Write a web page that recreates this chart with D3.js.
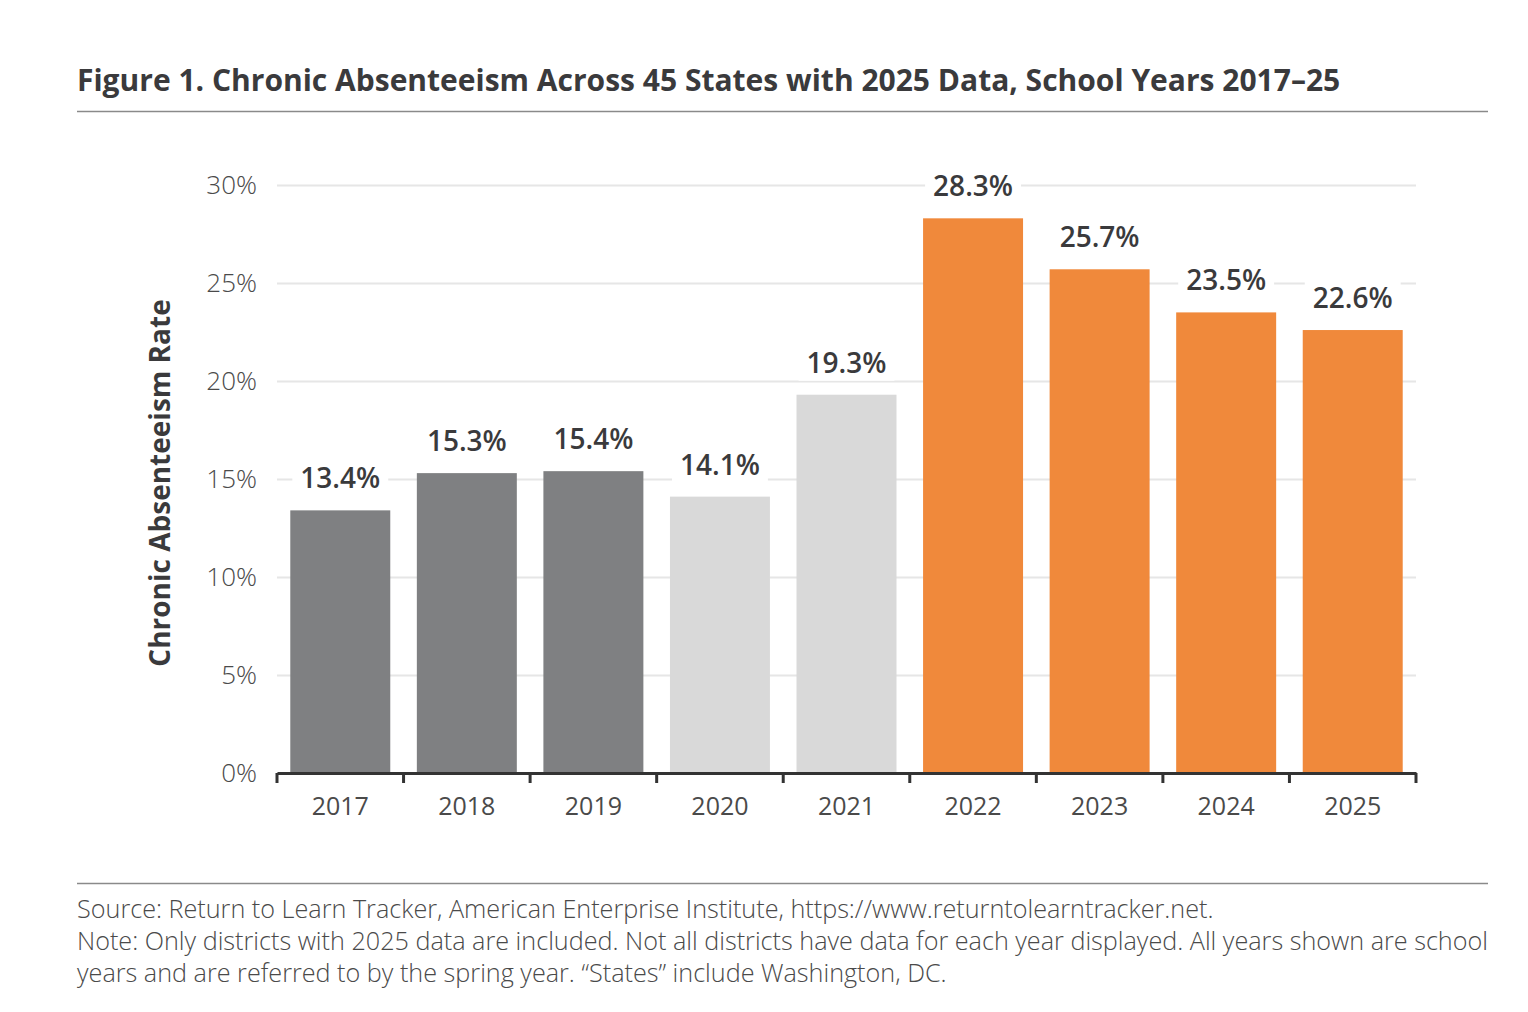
<!DOCTYPE html>
<html>
<head>
<meta charset="utf-8">
<script src="https://cdn.jsdelivr.net/npm/d3@7"></script>
<style>
  html, body { margin: 0; padding: 0; background: #fff; }
  svg text { font-family: "Open Sans", Lato, sans-serif; }
</style>
</head>
<body>
<svg id="chart" width="1528" height="1012"></svg>
<script>
// chart data
const years = ["2017", "2018", "2019", "2020", "2021", "2022", "2023", "2024", "2025"];
const rates = [13.4, 15.3, 15.4, 14.1, 19.3, 28.3, 25.7, 23.5, 22.6];
const barColors = ["#7f8082", "#7f8082", "#7f8082", "#d9d9d9", "#d9d9d9", "#f0893b", "#f0893b", "#f0893b", "#f0893b"];
const yTicks = [0, 5, 10, 15, 20, 25, 30];

const titleText = "Figure 1. Chronic Absenteeism Across 45 States with 2025 Data, School Years 2017\u201325";
const yTitle = "Chronic Absenteeism Rate";
const notes = [
  "Source: Return to Learn Tracker, American Enterprise Institute, https://www.returntolearntracker.net.",
  "Note: Only districts with 2025 data are included. Not all districts have data for each year displayed. All years shown are school",
  "years and are referred to by the spring year. \u201cStates\u201d include Washington, DC."
];

const svg = d3.select("#chart");
const plotLeft = 277, plotRight = 1416, plotTop = 185, plotBottom = 773;

// title + rules
svg.append("text")
  .attr("x", 77).attr("y", 91)
  .attr("font-size", 30).attr("font-weight", 700)
  .attr("fill", "#3a3a3c")
  .text(titleText);

svg.append("line")
  .attr("x1", 77).attr("x2", 1488).attr("y1", 111.5).attr("y2", 111.5)
  .attr("stroke", "#8a8a8a").attr("stroke-width", 1.5);

svg.append("line")
  .attr("x1", 77).attr("x2", 1488).attr("y1", 883.5).attr("y2", 883.5)
  .attr("stroke", "#8a8a8a").attr("stroke-width", 1.5);

const x = d3.scaleBand()
  .domain(years)
  .range([plotLeft, plotRight])
  .paddingInner(0.21)
  .paddingOuter(0.105);

const y = d3.scaleLinear()
  .domain([0, 30])
  .range([plotBottom, plotTop]);

// gridlines + y labels
const yAxis = svg.append("g")
  .attr("transform", `translate(${plotLeft},0)`)
  .call(d3.axisLeft(y).tickValues(yTicks).tickFormat(d => d + "%").tickSize(-(plotRight - plotLeft)).tickPadding(20));
yAxis.select(".domain").remove();
yAxis.selectAll(".tick line").attr("stroke", "#e6e6e6").attr("stroke-width", 2);
yAxis.selectAll(".tick text")
  .attr("font-size", 26).attr("font-weight", 300).attr("fill", "#4a4a4a")
  .attr("font-family", "'Open Sans', sans-serif");

// bars
svg.append("g").selectAll("rect")
  .data(rates)
  .join("rect")
  .attr("x", (d, i) => x(years[i]))
  .attr("y", d => y(d))
  .attr("width", x.bandwidth())
  .attr("height", d => y(0) - y(d))
  .attr("fill", (d, i) => barColors[i]);

// value labels with white backing to hide gridlines
const labels = svg.append("g").selectAll("g")
  .data(rates)
  .join("g");
labels.append("text")
  .attr("x", (d, i) => x(years[i]) + x.bandwidth() / 2)
  .attr("y", d => y(d) - 22)
  .attr("text-anchor", "middle")
  .attr("font-size", 28).attr("font-weight", 600)
  .attr("fill", "#3a3a3c")
  .text(d => d.toFixed(1) + "%");
labels.each(function () {
  const g = d3.select(this);
  const b = g.select("text").node().getBBox();
  g.insert("rect", "text")
    .attr("x", b.x - 8).attr("y", b.y).attr("width", b.width + 16).attr("height", b.height)
    .attr("fill", "#fff");
});

// x axis with ticks at band boundaries
const xAxis = svg.append("g")
  .attr("transform", `translate(0,${plotBottom})`)
  .call(d3.axisBottom(x).tickSize(0).tickPadding(24));
xAxis.select(".domain").attr("stroke", "#333").attr("stroke-width", 3);
xAxis.selectAll(".tick text")
  .attr("font-size", 25).attr("font-weight", 400).attr("fill", "#4a4a4a")
  .attr("font-family", "'Open Sans', sans-serif");
const edges = years.map(d => x(d) - x.step() * x.paddingInner() / 2).concat([plotRight]);
edges[0] = plotLeft;
xAxis.selectAll(".edge")
  .data(edges)
  .join("line")
  .attr("class", "edge")
  .attr("x1", d => d).attr("x2", d => d)
  .attr("y1", 0).attr("y2", 10)
  .attr("stroke", "#333").attr("stroke-width", 3);

// y title
svg.append("text")
  .attr("transform", "translate(170,483) rotate(-90)")
  .attr("text-anchor", "middle")
  .attr("font-size", 28).attr("font-weight", 700)
  .attr("fill", "#3a3a3c")
  .text(yTitle);

// footnotes
svg.append("g").selectAll("text")
  .data(notes)
  .join("text")
  .attr("x", 77)
  .attr("y", (d, i) => 918 + i * 32)
  .attr("font-size", 25.2).attr("font-weight", 300)
  .attr("fill", "#4a4a4a")
  .text(d => d);
</script>
</body>
</html>
